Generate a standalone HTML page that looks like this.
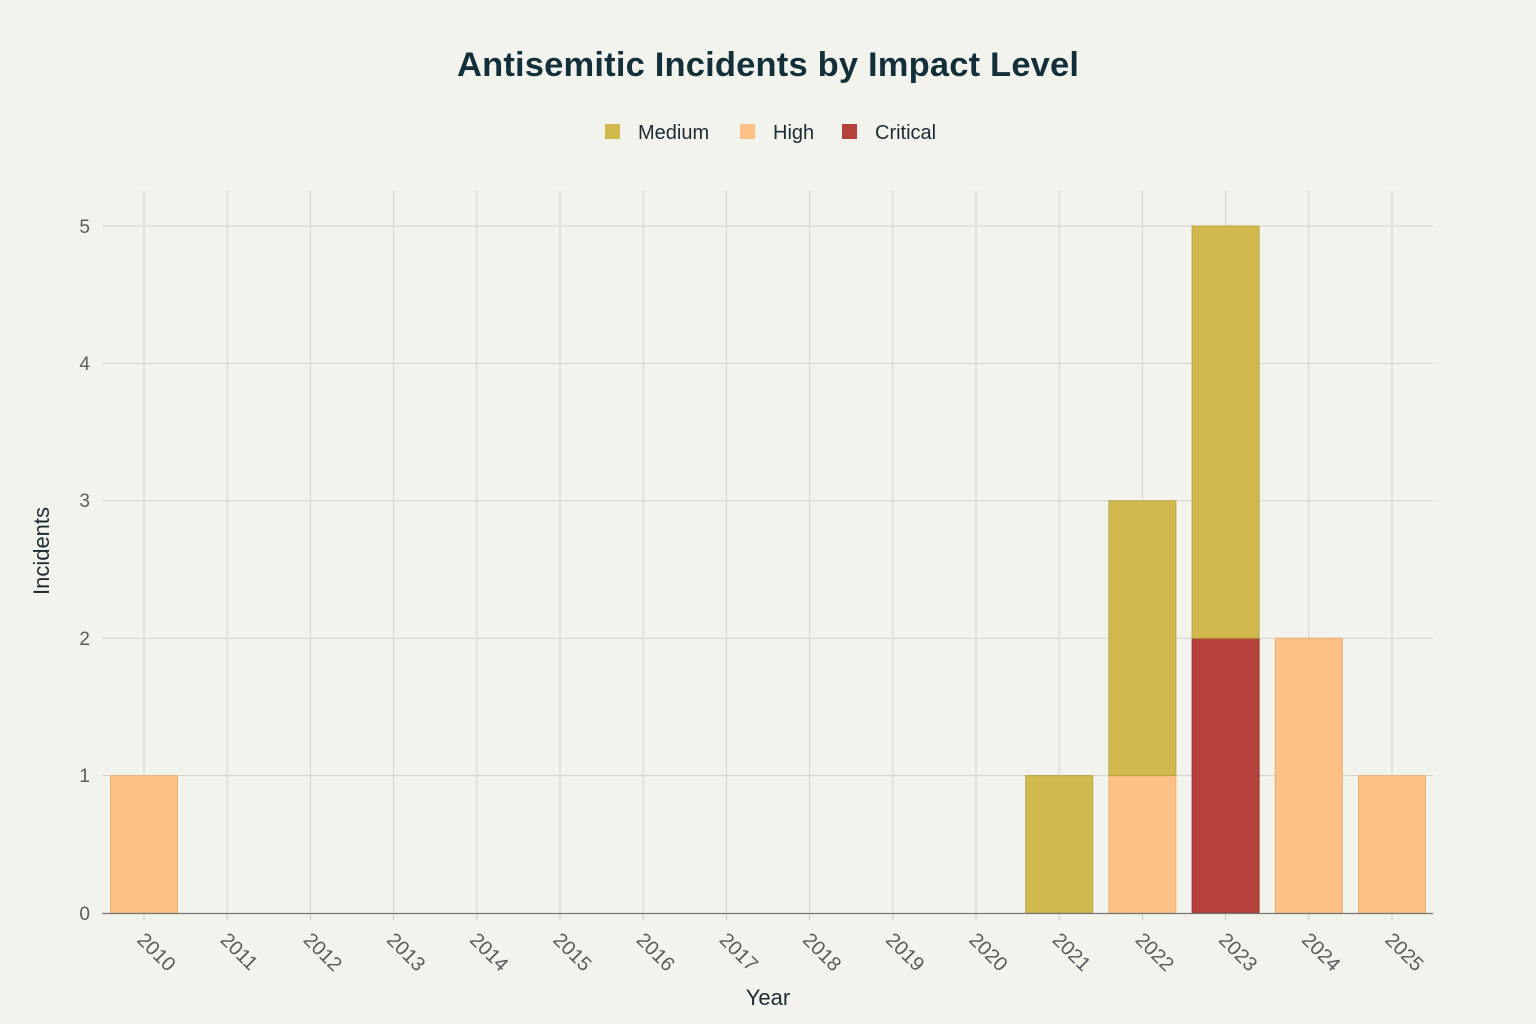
<!DOCTYPE html>
<html><head><meta charset="utf-8"><style>html,body{margin:0;padding:0;background:#f3f3ee}svg{display:block}text{font-family:"Liberation Sans",sans-serif}</style></head>
<body>
<svg width="1536" height="1024" viewBox="0 0 1536 1024">
<rect width="1536" height="1024" fill="#f3f3ee"/>
<text x="768" y="76" text-anchor="middle" font-size="34.5" font-weight="bold" fill="#13303a" textLength="622">Antisemitic Incidents by Impact Level</text>
<rect x="605" y="124" width="15" height="15" fill="#d2b94d"/><text x="638" y="139" font-size="20" fill="#1d2b33">Medium</text>
<rect x="740" y="124" width="15" height="15" fill="#ffc185"/><text x="773" y="139" font-size="20" fill="#1d2b33">High</text>
<rect x="842" y="124" width="15" height="15" fill="#b4413c"/><text x="875" y="139" font-size="20" fill="#1d2b33">Critical</text>
<g stroke="#d2d2cb" stroke-width="1">
<line x1="102" x2="1433" y1="775.6" y2="775.6"/><line x1="102" x2="1433" y1="638.2" y2="638.2"/><line x1="102" x2="1433" y1="500.8" y2="500.8"/><line x1="102" x2="1433" y1="363.4" y2="363.4"/><line x1="102" x2="1433" y1="226" y2="226"/>
<line x1="144" x2="144" y1="190" y2="913"/><line x1="227.2" x2="227.2" y1="190" y2="913"/><line x1="310.4" x2="310.4" y1="190" y2="913"/><line x1="393.6" x2="393.6" y1="190" y2="913"/><line x1="476.8" x2="476.8" y1="190" y2="913"/><line x1="560" x2="560" y1="190" y2="913"/><line x1="643.2" x2="643.2" y1="190" y2="913"/><line x1="726.4" x2="726.4" y1="190" y2="913"/><line x1="809.6" x2="809.6" y1="190" y2="913"/><line x1="892.8" x2="892.8" y1="190" y2="913"/><line x1="976" x2="976" y1="190" y2="913"/><line x1="1059.2" x2="1059.2" y1="190" y2="913"/><line x1="1142.4" x2="1142.4" y1="190" y2="913"/><line x1="1225.6" x2="1225.6" y1="190" y2="913"/><line x1="1308.8" x2="1308.8" y1="190" y2="913"/><line x1="1392" x2="1392" y1="190" y2="913"/>
</g>
<g stroke="#c8c8c2" stroke-width="1">
<line x1="144" x2="144" y1="913" y2="920"/><line x1="227.2" x2="227.2" y1="913" y2="920"/><line x1="310.4" x2="310.4" y1="913" y2="920"/><line x1="393.6" x2="393.6" y1="913" y2="920"/><line x1="476.8" x2="476.8" y1="913" y2="920"/><line x1="560" x2="560" y1="913" y2="920"/><line x1="643.2" x2="643.2" y1="913" y2="920"/><line x1="726.4" x2="726.4" y1="913" y2="920"/><line x1="809.6" x2="809.6" y1="913" y2="920"/><line x1="892.8" x2="892.8" y1="913" y2="920"/><line x1="976" x2="976" y1="913" y2="920"/><line x1="1059.2" x2="1059.2" y1="913" y2="920"/><line x1="1142.4" x2="1142.4" y1="913" y2="920"/><line x1="1225.6" x2="1225.6" y1="913" y2="920"/><line x1="1308.8" x2="1308.8" y1="913" y2="920"/><line x1="1392" x2="1392" y1="913" y2="920"/>
</g>
<g stroke-width="1">
<rect x="110.5" y="775.6" width="67" height="137.4" fill="#ffc185" stroke="#e8ae78"/>
<rect x="1025.7" y="775.6" width="67" height="137.4" fill="#d2b94d" stroke="#b9a343"/>
<rect x="1108.9" y="775.6" width="67" height="137.4" fill="#ffc185" stroke="#e8ae78"/>
<rect x="1108.9" y="500.8" width="67" height="274.8" fill="#d2b94d" stroke="#b9a343"/>
<rect x="1192.1" y="638.2" width="67" height="274.8" fill="#b4413c" stroke="#9a3430"/>
<rect x="1192.1" y="226" width="67" height="412.2" fill="#d2b94d" stroke="#b9a343"/>
<rect x="1275.3" y="638.2" width="67" height="274.8" fill="#ffc185" stroke="#e8ae78"/>
<rect x="1358.5" y="775.6" width="67" height="137.4" fill="#ffc185" stroke="#e8ae78"/>
</g>
<line x1="102" x2="1433" y1="913.5" y2="913.5" stroke="#777" stroke-width="1.2"/>
<g font-size="19" fill="#5a5a5a" text-anchor="end">
<text x="90" y="920">0</text><text x="90" y="782">1</text><text x="90" y="645">2</text><text x="90" y="507">3</text><text x="90" y="370">4</text><text x="90" y="233">5</text>
</g>
<g font-size="20" fill="#5a5a5a">
<text transform="translate(136,941) rotate(45)">2010</text>
<text transform="translate(219.2,941) rotate(45)">2011</text>
<text transform="translate(302.4,941) rotate(45)">2012</text>
<text transform="translate(385.6,941) rotate(45)">2013</text>
<text transform="translate(468.8,941) rotate(45)">2014</text>
<text transform="translate(552,941) rotate(45)">2015</text>
<text transform="translate(635.2,941) rotate(45)">2016</text>
<text transform="translate(718.4,941) rotate(45)">2017</text>
<text transform="translate(801.6,941) rotate(45)">2018</text>
<text transform="translate(884.8,941) rotate(45)">2019</text>
<text transform="translate(968,941) rotate(45)">2020</text>
<text transform="translate(1051.2,941) rotate(45)">2021</text>
<text transform="translate(1134.4,941) rotate(45)">2022</text>
<text transform="translate(1217.6,941) rotate(45)">2023</text>
<text transform="translate(1300.8,941) rotate(45)">2024</text>
<text transform="translate(1384,941) rotate(45)">2025</text>
</g>
<text x="768" y="1005" text-anchor="middle" font-size="22" fill="#1d2b33">Year</text>
<text transform="translate(49,551) rotate(-90)" text-anchor="middle" font-size="22" fill="#1d2b33">Incidents</text>
</svg>
</body></html>
